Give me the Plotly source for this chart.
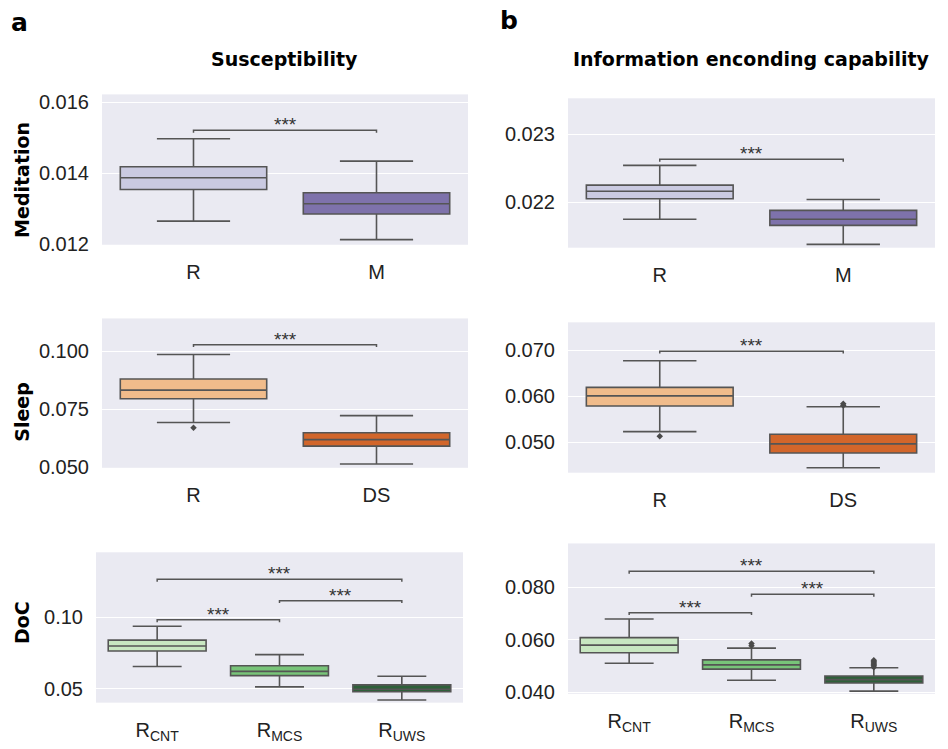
import plotly.graph_objects as go

W, H = 948, 749

# ---------------- data ----------------
# Panel a (Susceptibility)
med_cats = ["R", "M"]
med_sus_q1 = [0.01354, 0.01285]
med_sus_med = [0.01387, 0.01314]
med_sus_q3 = [0.01418, 0.01345]
med_sus_lo = [0.01265, 0.01213]
med_sus_hi = [0.01497, 0.01434]
med_sus_out = [[], []]

sleep_cats = ["R", "DS"]
sleep_sus_q1 = [0.07949, 0.05903]
sleep_sus_med = [0.08318, 0.06186]
sleep_sus_q3 = [0.08797, 0.06483]
sleep_sus_lo = [0.06920, 0.05136]
sleep_sus_hi = [0.09856, 0.07220]
sleep_sus_out = [[0.06695], []]

doc_cats = ["R<sub>CNT</sub>", "R<sub>MCS</sub>", "R<sub>UWS</sub>"]
doc_sus_q1 = [0.07641, 0.05922, 0.04794]
doc_sus_med = [0.07985, 0.06218, 0.04975]
doc_sus_q3 = [0.08398, 0.06610, 0.05275]
doc_sus_lo = [0.06562, 0.05138, 0.04223]
doc_sus_hi = [0.09362, 0.07387, 0.05873]
doc_sus_out = [[], [], []]

# Panel b (Information encoding capability)
med_inf_q1 = [0.02205, 0.02166]
med_inf_med = [0.02216, 0.02175]
med_inf_q3 = [0.02225, 0.02188]
med_inf_lo = [0.02175, 0.02138]
med_inf_hi = [0.02254, 0.02204]
med_inf_out = [[], []]

sleep_inf_q1 = [0.05786, 0.04764]
sleep_inf_med = [0.06006, 0.04964]
sleep_inf_q3 = [0.06193, 0.05171]
sleep_inf_lo = [0.05229, 0.04443]
sleep_inf_hi = [0.06771, 0.05771]
sleep_inf_out = [[0.05128], [0.05800, 0.05835]]

doc_inf_q1 = [0.05500, 0.04874, 0.04349]
doc_inf_med = [0.05789, 0.05039, 0.04476]
doc_inf_q3 = [0.06074, 0.05226, 0.04611]
doc_inf_lo = [0.05099, 0.04449, 0.04037]
doc_inf_hi = [0.06786, 0.05676, 0.04926]
doc_inf_out = [[], [0.05770, 0.05850], [0.04950, 0.05000, 0.05060, 0.05110, 0.05160, 0.05210]]

# significance brackets: (cat_i, cat_j, height, label)
med_sus_sig = [(0, 1, 0.01521, "***")]
sleep_sus_sig = [(0, 1, 0.1028, "***")]
doc_sus_sig = [(0, 1, 0.09816, "***"), (1, 2, 0.1115, "***"), (0, 2, 0.1264, "***")]
med_inf_sig = [(0, 1, 0.02263, "***")]
sleep_inf_sig = [(0, 1, 0.06979, "***")]
doc_inf_sig = [(0, 1, 0.07026, "***"), (1, 2, 0.07726, "***"), (0, 2, 0.0860, "***")]

# y tick values
med_sus_ticks = [0.012, 0.014, 0.016]
sleep_sus_ticks = [0.050, 0.075, 0.100]
doc_sus_ticks = [0.05, 0.10]
med_inf_ticks = [0.022, 0.023]
sleep_inf_ticks = [0.050, 0.060, 0.070]
doc_inf_ticks = [0.040, 0.060, 0.080]

col_titles = ["Susceptibility", "Information enconding capability"]
panel_letters = ["a", "b"]
row_labels = ["Meditation", "Sleep", "DoC"]

# ---------------- styling ----------------
purples = ["#cacae1", "#7e72ab"]
oranges = ["#f1bc8b", "#d2662b"]
greens = ["#c8e7c1", "#78c479", "#2e6039"]
LINE = "#555555"
BG = "#eaeaf2"
TXT = "#222222"
TICKFONT = dict(family="Liberation Sans, Arial, sans-serif", size=20, color=TXT)
BOLD = "DejaVu Sans, Liberation Sans, sans-serif"

# panel pixel boxes: (x0, x1, y_top, y_bottom)
panels = [
    dict(cats=med_cats, q1=med_sus_q1, med=med_sus_med, q3=med_sus_q3, lo=med_sus_lo, hi=med_sus_hi,
         out=med_sus_out, sig=med_sus_sig, colors=purples, ticks=med_sus_ticks, fmt=".3f",
         yr=[0.011985, 0.01622], px=(102, 468, 93, 246)),
    dict(cats=med_cats, q1=med_inf_q1, med=med_inf_med, q3=med_inf_q3, lo=med_inf_lo, hi=med_inf_hi,
         out=med_inf_out, sig=med_inf_sig, colors=purples, ticks=med_inf_ticks, fmt=".3f",
         yr=[0.021332, 0.023524], px=(568, 935, 97, 249)),
    dict(cats=sleep_cats, q1=sleep_sus_q1, med=sleep_sus_med, q3=sleep_sus_q3, lo=sleep_sus_lo, hi=sleep_sus_hi,
         out=sleep_sus_out, sig=sleep_sus_sig, colors=oranges, ticks=sleep_sus_ticks, fmt=".3f",
         yr=[0.0497, 0.1141], px=(102, 468, 321, 473)),
    dict(cats=sleep_cats, q1=sleep_inf_q1, med=sleep_inf_med, q3=sleep_inf_q3, lo=sleep_inf_lo, hi=sleep_inf_hi,
         out=sleep_inf_out, sig=sleep_inf_sig, colors=oranges, ticks=sleep_inf_ticks, fmt=".3f",
         yr=[0.04336, 0.07606], px=(568, 935, 325, 478)),
    dict(cats=doc_cats, q1=doc_sus_q1, med=doc_sus_med, q3=doc_sus_q3, lo=doc_sus_lo, hi=doc_sus_hi,
         out=doc_sus_out, sig=doc_sus_sig, colors=greens, ticks=doc_sus_ticks, fmt=".2f",
         yr=[0.04037, 0.1452], px=(96, 463, 559, 712)),
    dict(cats=doc_cats, q1=doc_inf_q1, med=doc_inf_med, q3=doc_inf_q3, lo=doc_inf_lo, hi=doc_inf_hi,
         out=doc_inf_out, sig=doc_inf_sig, colors=greens, ticks=doc_inf_ticks, fmt=".3f",
         yr=[0.03936, 0.09661], px=(568, 935, 550, 703)),
]

fig = go.Figure()
layout = dict(
    width=W, height=H, margin=dict(l=0, r=0, t=0, b=0),
    paper_bgcolor="white", plot_bgcolor=BG, showlegend=False, boxmode="overlay",
)
annotations = []

for k, p in enumerate(panels):
    n = k + 1
    xa = "x" if n == 1 else f"x{n}"
    ya = "y" if n == 1 else f"y{n}"
    x0, x1, yt, yb = p["px"]
    ncat = len(p["cats"])
    layout["xaxis" if n == 1 else f"xaxis{n}"] = dict(
        domain=[x0 / W, x1 / W], anchor=ya, type="category", categoryorder="array",
        categoryarray=p["cats"], range=[-0.5, ncat - 0.5], showgrid=False, zeroline=False,
        showline=False, ticks="outside", ticklen=9, tickcolor="rgba(0,0,0,0)", tickfont=TICKFONT,
    )
    layout["yaxis" if n == 1 else f"yaxis{n}"] = dict(
        domain=[1 - yb / H, 1 - yt / H], anchor=xa, range=p["yr"], tickvals=p["ticks"],
        ticktext=[format(v, p["fmt"]) for v in p["ticks"]],
        showgrid=True, gridcolor="white", gridwidth=1.2, zeroline=False, showline=False,
        ticks="outside", ticklen=8, tickcolor="rgba(0,0,0,0)", tickfont=TICKFONT,
    )
    span = p["yr"][1] - p["yr"][0]
    for i, c in enumerate(p["cats"]):
        fig.add_trace(go.Box(
            x=[c], q1=[p["q1"][i]], median=[p["med"][i]], q3=[p["q3"][i]],
            lowerfence=[p["lo"][i]], upperfence=[p["hi"][i]],
            fillcolor=p["colors"][i], line=dict(color=LINE, width=1.6),
            width=0.8, whiskerwidth=0.5, boxpoints=False,
            xaxis=xa, yaxis=ya, hoverinfo="skip",
        ))
        if p["out"][i]:
            fig.add_trace(go.Scatter(
                x=[c] * len(p["out"][i]), y=p["out"][i], mode="markers",
                marker=dict(symbol="diamond", size=5, color="#4a4a4a"),
                xaxis=xa, yaxis=ya, hoverinfo="skip",
            ))
    for (a, b, h, lab) in p["sig"]:
        tick = 0.016 * span
        ca, cb = p["cats"][a], p["cats"][b]
        fig.add_trace(go.Scatter(
            x=[ca, ca, cb, cb], y=[h - tick, h, h, h - tick], mode="lines",
            line=dict(color=LINE, width=1.5), xaxis=xa, yaxis=ya, hoverinfo="skip",
        ))
        annotations.append(dict(
            x=(a + b) / 2, y=h, xref=xa, yref=ya, text=lab, showarrow=False,
            xanchor="center", yanchor="bottom", yshift=-7,
            font=dict(family="Liberation Sans, Arial, sans-serif", size=19, color="#333333"),
        ))

# column titles
for t, xc in zip(col_titles, [284, 751]):
    annotations.append(dict(x=xc / W, y=1 - 57 / H, xref="paper", yref="paper", text=f"<b>{t}</b>",
                            xanchor="center", yanchor="middle", showarrow=False,
                            font=dict(family=BOLD, size=19, color="black")))
# panel letters
for t, xc, yc in zip(panel_letters, [19, 509], [20, 18]):
    annotations.append(dict(x=xc / W, y=1 - yc / H, xref="paper", yref="paper", text=f"<b>{t}</b>",
                            xanchor="center", yanchor="middle", showarrow=False,
                            font=dict(family=BOLD, size=25, color="black")))
# row labels
for lab, yc in zip(row_labels, [180, 416, 631]):
    annotations.append(dict(x=22 / W, y=1 - yc / H, xref="paper", yref="paper", text=f"<b>{lab}</b>",
                            xanchor="center", yanchor="middle", textangle=-90, showarrow=False,
                            font=dict(family=BOLD, size=19, color="black")))

layout["annotations"] = annotations
fig.update_layout(**layout)
fig.write_html("out.html", config={"displayModeBar": False},
               post_script="document.body.style.margin='0';document.body.style.overflow='hidden';")
